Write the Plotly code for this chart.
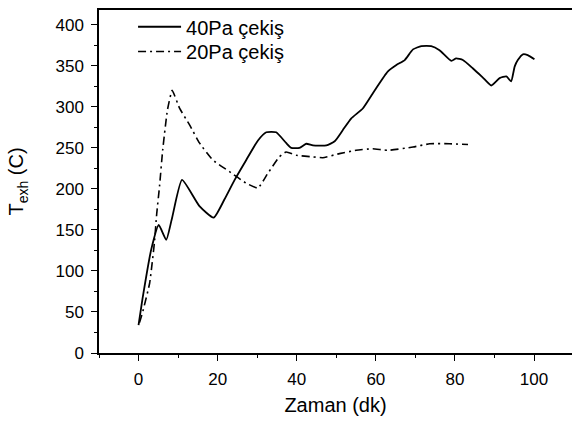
import plotly.graph_objects as go

# Exhaust temperature over time for two draught levels
time_40pa = [0, 1.1, 3.2, 5.1, 7.0, 8.4, 11.0, 15.4, 19.0, 21.7, 24.3, 27.2, 30.2, 32.3, 34.8,
             37.3, 38.6, 40.7, 42.4, 44.1, 47.5, 49.6, 51.7, 53.8, 56.7, 59.7, 63.0, 65.2,
             67.3, 69.4, 71.5, 74.0, 76.1, 79.1, 80.3, 82.0, 84.5, 87.0, 89.2, 91.3, 93.0,
             94.2, 95.1, 95.9, 97.2, 98.4, 100.1]
temp_40pa = [34, 69, 126, 156, 138, 163, 211, 179, 165, 187, 211, 235, 259, 269, 269,
             256, 250, 250, 255, 253, 253, 258, 272, 286, 298, 320, 343, 351,
             357, 370, 374, 374, 369, 356, 359, 357, 347, 336, 326, 335, 337,
             331, 349, 357, 364, 363, 358]

time_20pa = [0.25, 1.1, 2.8, 4.0, 4.6, 5.3, 6.1, 7.3, 8.5, 10.4, 12.9, 15.4, 18.8, 23.0,
             27.2, 30.2, 32.7, 35.6, 37.3, 39.9, 44.1, 46.6, 50.8, 55.0, 59.2, 63.0,
             69.4, 73.6, 78.6, 83.3]
temp_20pa = [37, 51, 85, 134, 170, 203, 247, 296, 320, 298, 278, 256, 235, 221,
             207, 201, 219, 239, 245, 241, 239, 238, 243, 247, 249, 247,
             251, 255, 255, 254]

x_ticks = [0, 20, 40, 60, 80, 100]
y_ticks = [0, 50, 100, 150, 200, 250, 300, 350, 400]
x_range = [-10, 109.6]
y_range = [0, 418]

FONT = "Liberation Sans, Arial, sans-serif"

fig = go.Figure()
fig.add_trace(go.Scatter(
    x=time_40pa, y=temp_40pa, mode="lines", name="40Pa çekiş", legend="legend",
    line=dict(color="black", width=1.8, shape="spline", smoothing=0.5),
))
fig.add_trace(go.Scatter(
    x=time_20pa, y=temp_20pa, mode="lines", name="20Pa çekiş", legend="legend2",
    line=dict(color="black", width=1.6, dash="8px,4px,2px,4px", shape="spline", smoothing=0.4),
))

legend_style = dict(xanchor="left", yanchor="top", bgcolor="rgba(0,0,0,0)",
                    font=dict(size=20), itemwidth=43)

fig.update_layout(
    width=572, height=426,
    margin=dict(l=99, r=0, t=10, b=73, autoexpand=False),
    paper_bgcolor="white", plot_bgcolor="white",
    font=dict(family=FONT, color="black", size=17),
    showlegend=True,
    legend=dict(x=0.072, y=1.008, **legend_style),
    legend2=dict(x=0.072, y=0.936, **legend_style),
    xaxis=dict(
        range=x_range, tickvals=x_ticks, showgrid=False, zeroline=False,
        showline=True, mirror=True, linecolor="black", linewidth=1.5,
        ticks="outside", ticklen=6, tickwidth=1.2, tickcolor="black",
        minor=dict(dtick=10, tick0=0, ticks="outside", ticklen=3, tickcolor="black", tickwidth=1),
        tickfont=dict(size=17), ticklabelstandoff=4,
        title=dict(text="Zaman (dk)", font=dict(size=20), standoff=10),
    ),
    yaxis=dict(
        range=y_range, tickvals=y_ticks, showgrid=False, zeroline=False,
        showline=True, linecolor="black", linewidth=1.5,
        ticks="outside", ticklen=6, tickwidth=1.2, tickcolor="black",
        minor=dict(dtick=25, tick0=0, ticks="outside", ticklen=3, tickcolor="black", tickwidth=1),
        tickfont=dict(size=17), ticklabelstandoff=4,
        title=dict(text="T<sub>exh</sub> (C)", font=dict(size=20), standoff=26),
    ),
)

fig.write_html("out.html", config={"displayModeBar": False})
